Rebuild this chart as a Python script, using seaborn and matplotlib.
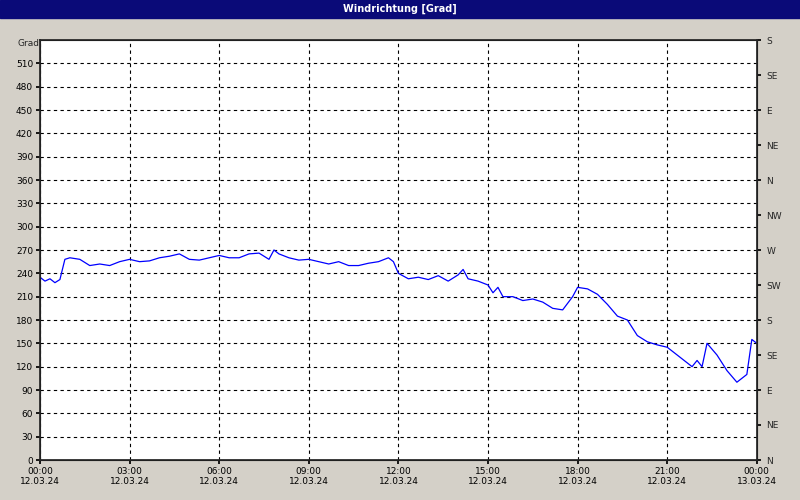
import matplotlib
matplotlib.use("Agg")
import matplotlib.pyplot as plt
import seaborn as sns
import pandas as pd

# time in hours since 12.03.24 00:00, direction in degrees
hours = [0, 1/6, 2/6, 3/6, 4/6, 5/6, 1, 1+2/6, 1+4/6, 2, 2+2/6, 2+4/6,
         3, 3+2/6, 3+4/6, 4, 4+2/6, 4+4/6, 5, 5+2/6, 5+4/6, 6, 6+2/6, 6+4/6,
         7, 7+2/6, 7+4/6, 7+5/6, 8, 8+2/6, 8+4/6, 9, 9+2/6, 9+4/6, 10, 10+2/6,
         10+4/6, 11, 11+2/6, 11+4/6, 11+5/6, 12, 12+2/6, 12+4/6, 13, 13+2/6,
         13+4/6, 14, 14+1/6, 14+2/6, 14+4/6, 15, 15+1/6, 15+2/6, 15+3/6,
         15+5/6, 16+1/6, 16+3/6, 16+5/6, 17+1/6, 17+3/6, 17+5/6, 18, 18+2/6,
         18+4/6, 19, 19+2/6, 19+4/6, 20, 20+2/6, 20+4/6, 21, 21+2/6, 21+4/6,
         21+5/6, 22, 22+1/6, 22+2/6, 22+4/6, 23, 23+2/6, 23+4/6, 23+5/6, 24]
grad = [235, 230, 233, 228, 232, 258, 260, 258, 250, 252, 250, 255,
        258, 255, 256, 260, 262, 265, 258, 257, 260, 263, 260, 260,
        265, 266, 258, 270, 265, 260, 257, 258, 255, 252, 255, 250,
        250, 253, 255, 260, 255, 240, 233, 235, 232, 237,
        230, 238, 245, 233, 230, 225, 215, 222, 210,
        210, 205, 207, 203, 195, 193, 210, 222, 220,
        213, 200, 185, 180, 160, 152, 148, 145, 135, 125,
        120, 128, 120, 150, 135, 115, 100, 110, 155, 150]

y_ticks = list(range(0, 511, 30))
x_ticks = list(range(0, 25, 3))
x_labels = ["00:00\n12.03.24", "03:00\n12.03.24", "06:00\n12.03.24",
            "09:00\n12.03.24", "12:00\n12.03.24", "15:00\n12.03.24",
            "18:00\n12.03.24", "21:00\n12.03.24", "00:00\n13.03.24"]
dir_ticks = list(range(0, 541, 45))
dir_labels = ["N", "NE", "E", "SE", "S", "SW", "W", "NW", "N", "NE", "E", "SE", "S"]

sns.set_theme(style="white")
plt.rcParams["font.family"] = ["DejaVu Sans"]

df = pd.DataFrame({"h": hours, "grad": grad})

fig = plt.figure(figsize=(8, 5), dpi=100, facecolor="#d4d0c8")
fig.patches.append(plt.Rectangle((0, 0.964), 1, 0.036, transform=fig.transFigure,
                                 color="#0a0a78", zorder=0))
fig.text(0.5, 0.982, "Windrichtung [Grad]", color="white", fontsize=7,
         fontweight="bold", ha="center", va="center")

ax = fig.add_axes([0.05, 0.08, 0.896, 0.84])
ax.set_facecolor("white")
sns.lineplot(data=df, x="h", y="grad", ax=ax, color="#0000ff", linewidth=0.9)
ax.set_xlim(0, 24)
ax.set_ylim(0, 540)
ax.set_xticks(x_ticks)
ax.set_xticklabels(x_labels, fontsize=6.5)
ax.set_yticks(y_ticks)
ax.set_yticklabels([str(v) for v in y_ticks], fontsize=6.5)
ax.set_xlabel("")
ax.set_ylabel("")
ax.grid(True, color="black", linestyle=(0, (3, 3)), linewidth=0.8)
for s in ax.spines.values():
    s.set_color("black")
    s.set_linewidth(0.8)
ax.tick_params(axis="both", length=3, color="black", labelcolor="black", pad=2,
               left=True, bottom=True)

ax2 = ax.twinx()
ax2.set_ylim(0, 540)
ax2.set_yticks(dir_ticks)
ax2.set_yticklabels(dir_labels, fontsize=6.5)
ax2.tick_params(axis="y", length=3, color="black", pad=4, right=True)
ax2.grid(False)

fig.text(0.035, 0.905, "Grad", fontsize=6.5, ha="center", va="bottom")

fig.savefig("out.png", dpi=100, facecolor=fig.get_facecolor())
